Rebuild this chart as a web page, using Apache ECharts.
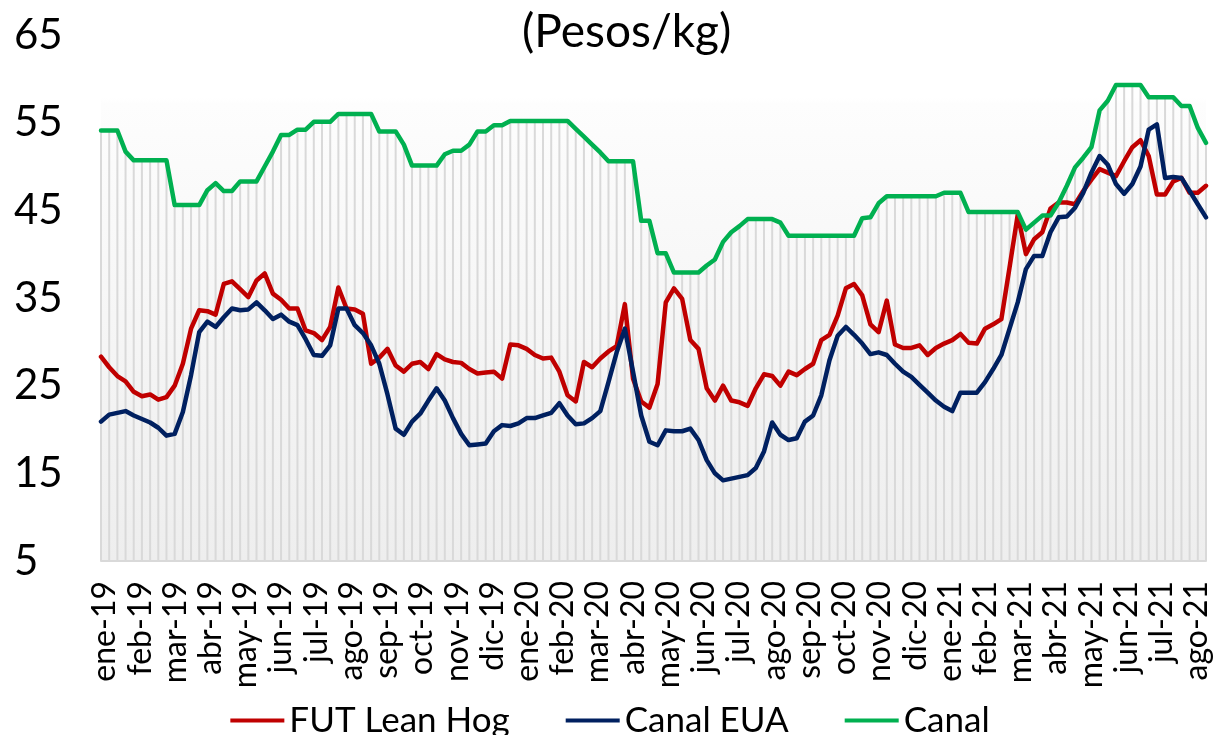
<!DOCTYPE html>
<html>
<head>
<meta charset="utf-8">
<script src="https://cdn.jsdelivr.net/npm/echarts@6/dist/echarts.min.js"></script>
<style>
  html, body { margin: 0; padding: 0; background: #fff; }
  #chart { width: 1220px; height: 735px; }
</style>
</head>
<body>
<div id="chart"></div>
<script>
// etiquetas de mes del eje x
const monthLabels = [
  'ene-19', 'feb-19', 'mar-19', 'abr-19', 'may-19', 'jun-19', 'jul-19', 'ago-19',
  'sep-19', 'oct-19', 'nov-19', 'dic-19', 'ene-20', 'feb-20', 'mar-20', 'abr-20',
  'may-20', 'jun-20', 'jul-20', 'ago-20', 'sep-20', 'oct-20', 'nov-20', 'dic-20',
  'ene-21', 'feb-21', 'mar-21', 'abr-21', 'may-21', 'jun-21', 'jul-21', 'ago-21'
];

const seriesNames = ['FUT Lean Hog', 'Canal EUA', 'Canal'];
const seriesColors = ['#C00000', '#002060', '#00B050'];

// precios semanales (Pesos/kg)
const futLeanHog = [
  28.3, 27.1, 26.1, 25.5, 24.3, 23.8, 24.0, 23.4, 23.7, 25.0,
  27.5, 31.5, 33.6, 33.5, 33.1, 36.6, 36.9, 36.0, 35.1, 37.0,
  37.8, 35.5, 34.8, 33.8, 33.8, 31.3, 31.0, 30.2, 31.7, 36.2,
  33.8, 33.7, 33.2, 27.5, 28.2, 29.2, 27.3, 26.6, 27.5, 27.7,
  26.9, 28.6, 28.0, 27.7, 27.6, 26.9, 26.4, 26.5, 26.6, 25.8,
  29.7, 29.6, 29.2, 28.5, 28.1, 28.2, 26.6, 23.9, 23.2, 27.7,
  27.1, 28.1, 28.9, 29.5, 34.3, 25.8, 23.2, 22.5, 25.2, 34.5,
  36.1, 34.9, 30.2, 29.2, 24.7, 23.3, 25.0, 23.3, 23.1, 22.7,
  24.7, 26.3, 26.1, 25.0, 26.6, 26.2, 26.9, 27.5, 30.2, 30.8,
  33.0, 36.1, 36.6, 35.3, 32.0, 31.1, 34.7, 29.7, 29.3, 29.3,
  29.6, 28.5, 29.3, 29.8, 30.2, 30.9, 29.9, 29.8, 31.5, 32.0,
  32.6, 38.5, 44.5, 40.0, 41.7, 42.5, 45.2, 45.9, 45.9, 45.7,
  47.2, 48.5, 49.7, 49.3, 48.9, 50.6, 52.2, 53.0, 51.2, 46.8,
  46.8, 48.3, 48.7, 47.0, 47.0, 47.8
];

const canalEUA = [
  20.9, 21.7, 21.9, 22.1, 21.6, 21.2, 20.8, 20.2, 19.3, 19.5,
  22.0, 26.2, 31.1, 32.3, 31.7, 32.8, 33.8, 33.6, 33.7, 34.5,
  33.6, 32.6, 33.1, 32.3, 31.9, 30.3, 28.5, 28.4, 29.6, 33.8,
  33.8, 31.9, 31.0, 29.6, 27.5, 24.0, 20.1, 19.4, 20.9, 21.8,
  23.3, 24.7, 23.3, 21.3, 19.5, 18.2, 18.3, 18.4, 19.8, 20.5,
  20.4, 20.7, 21.3, 21.3, 21.6, 21.9, 23.0, 21.6, 20.6, 20.7,
  21.3, 22.1, 25.4, 28.8, 31.5, 26.6, 21.6, 18.6, 18.2, 19.9,
  19.8, 19.8, 20.1, 18.8, 16.5, 15.0, 14.2, 14.4, 14.6, 14.8,
  15.6, 17.5, 20.8, 19.4, 18.8, 19.0, 20.9, 21.6, 23.9, 27.9,
  30.7, 31.7, 30.8, 29.8, 28.6, 28.8, 28.5, 27.5, 26.6, 26.0,
  25.1, 24.2, 23.3, 22.6, 22.1, 24.2, 24.2, 24.2, 25.4, 26.9,
  28.5, 31.5, 34.5, 38.3, 39.8, 39.8, 42.5, 44.2, 44.3, 45.3,
  47.0, 49.3, 51.2, 50.2, 48.0, 46.9, 48.0, 50.0, 54.2, 54.8,
  48.7, 48.8, 48.7, 47.2, 45.7, 44.2
];

const canal = [
  54.1, 54.1, 54.1, 51.7, 50.7, 50.7, 50.7, 50.7, 50.7, 45.6,
  45.6, 45.6, 45.6, 47.3, 48.1, 47.2, 47.2, 48.3, 48.3, 48.3,
  50.0, 51.7, 53.6, 53.6, 54.2, 54.2, 55.1, 55.1, 55.1, 56.0,
  56.0, 56.0, 56.0, 56.0, 54.0, 54.0, 54.0, 52.5, 50.1, 50.1,
  50.1, 50.1, 51.4, 51.8, 51.8, 52.5, 54.0, 54.0, 54.7, 54.7,
  55.2, 55.2, 55.2, 55.2, 55.2, 55.2, 55.2, 55.2, 54.3, 53.4,
  52.5, 51.6, 50.6, 50.6, 50.6, 50.6, 43.8, 43.8, 40.1, 40.1,
  37.9, 37.9, 37.9, 37.9, 38.7, 39.4, 41.4, 42.5, 43.2, 44.0,
  44.0, 44.0, 44.0, 43.6, 42.1, 42.1, 42.1, 42.1, 42.1, 42.1,
  42.1, 42.1, 42.1, 44.1, 44.2, 45.8, 46.6, 46.6, 46.6, 46.6,
  46.6, 46.6, 46.6, 47.0, 47.0, 47.0, 44.8, 44.8, 44.8, 44.8,
  44.8, 44.8, 44.8, 42.8, 43.6, 44.4, 44.4, 45.9, 47.8, 49.9,
  51.0, 52.2, 56.4, 57.5, 59.3, 59.3, 59.3, 59.3, 57.9, 57.9,
  57.9, 57.9, 56.9, 56.9, 54.4, 52.7
];

// una categoría por semana
const weeks = [];
const start = new Date(2018, 11, 31);
for (let i = 0; i < canal.length; i++) {
  const d = new Date(start.getTime() + i * 7 * 86400000);
  weeks.push(d.toISOString().slice(0, 10));
}

const FONT = 'Lato, "Open Sans", sans-serif';

const chart = echarts.init(document.getElementById('chart'));

chart.setOption({
  backgroundColor: '#ffffff',
  animation: false,
  title: {
    text: '(Pesos/kg)',
    left: 517,
    top: 4,
    textStyle: { fontFamily: FONT, fontSize: 46, fontWeight: 'normal', color: '#000' }
  },
  legend: {
    data: seriesNames,
    left: 'center',
    top: 698,
    icon: 'rect',
    itemWidth: 54,
    itemHeight: 4,
    itemGap: 56,
    textStyle: { fontFamily: FONT, fontSize: 35, color: '#000' }
  },
  grid: [
    {
      left: 101, right: 14, top: 35, bottom: 174,
      show: true,
      borderWidth: 0,
      backgroundColor: {
        type: 'linear', x: 0, y: 0, x2: 0, y2: 1,
        colorStops: [
          { offset: 0, color: '#ffffff' },
          { offset: 0.12, color: '#ffffff' },
          { offset: 0.13, color: '#fdfdfd' },
          { offset: 1, color: '#eeeeee' }
        ]
      }
    },
    // grid only used to place month labels
    { left: 105, width: 1092, top: 35, bottom: 174 }
  ],
  xAxis: [
    {
      type: 'category',
      gridIndex: 0,
      data: weeks,
      boundaryGap: false,
      axisLine: { lineStyle: { color: '#d9d9d9', width: 2 } },
      axisTick: { show: false },
      axisLabel: { show: false },
      splitLine: { show: false }
    },
    {
      type: 'value',
      gridIndex: 1,
      min: 0,
      max: monthLabels.length - 1,
      interval: 1,
      axisLine: { show: false },
      axisTick: { show: false },
      splitLine: { show: false },
      axisLabel: {
        rotate: 90,
        margin: 20,
        fontFamily: FONT,
        fontSize: 32,
        color: '#000',
        showMinLabel: true,
        showMaxLabel: true,
        formatter: v => monthLabels[Math.round(v)] || ''
      }
    }
  ],
  yAxis: [
    {
      type: 'value',
      gridIndex: 0,
      min: 5,
      max: 65,
      interval: 10,
      axisLine: { show: false },
      axisTick: { show: false },
      splitLine: { show: false },
      axisLabel: {
        align: 'left',
        margin: 87,
        fontFamily: FONT,
        fontSize: 42,
        color: '#000'
      }
    },
    { type: 'value', gridIndex: 1, min: 0, max: 1, show: false }
  ],
  series: [
    {
      // rayas verticales bajo la curva de Canal
      name: 'stripes',
      type: 'bar',
      xAxisIndex: 0,
      yAxisIndex: 0,
      data: canal,
      barWidth: 2,
      itemStyle: { color: '#d9d9d9' },
      silent: true,
      z: 1
    },
    {
      name: seriesNames[0],
      type: 'line',
      data: futLeanHog,
      showSymbol: false,
      symbol: 'none',
      lineStyle: { color: seriesColors[0], width: 4.5, join: 'round', cap: 'round' },
      itemStyle: { color: seriesColors[0] },
      z: 3
    },
    {
      name: seriesNames[1],
      type: 'line',
      data: canalEUA,
      showSymbol: false,
      symbol: 'none',
      lineStyle: { color: seriesColors[1], width: 4.5, join: 'round', cap: 'round' },
      itemStyle: { color: seriesColors[1] },
      z: 4
    },
    {
      name: seriesNames[2],
      type: 'line',
      data: canal,
      showSymbol: false,
      symbol: 'none',
      lineStyle: { color: seriesColors[2], width: 4.5, join: 'round', cap: 'round' },
      itemStyle: { color: seriesColors[2] },
      z: 5
    }
  ]
});
</script>
</body>
</html>
